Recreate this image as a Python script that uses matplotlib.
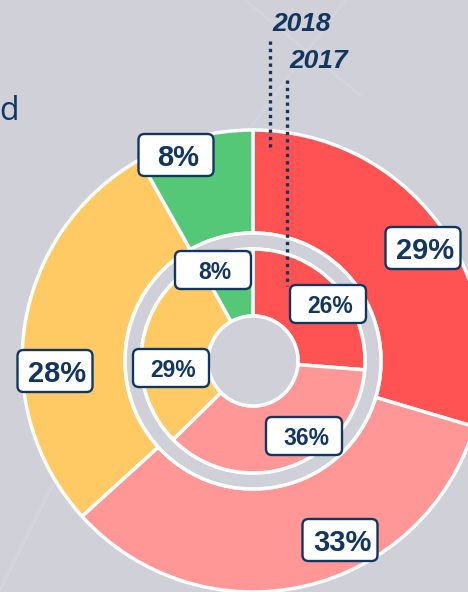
import matplotlib.pyplot as plt
from matplotlib.patches import Circle, Wedge, FancyBboxPatch

# ── data ─────────────────────────────────────────────────────────────────────
segments   = ["A", "B", "C", "D"]
share_2018 = [29, 33, 28, 8]     # outer ring
share_2017 = [26, 36, 29, 8]     # inner ring
seg_colors = ["#FF5252", "#FF9797", "#FFC963", "#55C878"]
# ─────────────────────────────────────────────────────────────────────────────

W, H = 468, 592
BG = "#CFD0D8"
NAVY = "#12365F"

def py(y):
    # image row -> data y (y up)
    return H - y

fig = plt.figure(figsize=(W / 100, H / 100), dpi=100)
fig.patch.set_facecolor(BG)
ax = fig.add_axes([0, 0, 1, 1])
ax.set_facecolor(BG)

# faint background streaks
for (x0, y0, x1, y1) in [(245, 0, 360, 95), (345, 0, 245, 135), (60, 470, 0, 590)]:
    ax.plot([x0, x1], [py(y0), py(y1)], color="white", alpha=0.12, lw=2, zorder=0)

cx, cy = 253, py(361)
r_out, r_out_in = 231, 128
r_in, r_hole = 112, 45
lw = 2.5

ax.pie(share_2018, radius=r_out, center=(cx, cy), startangle=90, counterclock=False,
       colors=seg_colors, wedgeprops=dict(width=r_out - r_out_in, edgecolor="white", linewidth=lw))
ax.add_patch(Wedge((cx, cy), r_out_in, 0, 360, width=r_out_in - r_in,
                   facecolor=BG, edgecolor="white", linewidth=lw, zorder=3))
ax.pie(share_2017, radius=r_in, center=(cx, cy), startangle=90, counterclock=False,
       colors=seg_colors, wedgeprops=dict(width=r_in - r_hole, edgecolor="white", linewidth=lw, zorder=4))
ax.add_patch(Circle((cx, cy), r_hole, facecolor=BG, edgecolor="white", linewidth=lw, zorder=5))

# value labels: centre positions in image pixels
outer_pos = [(423, 248), (340, 540), (55, 371), (176, 155)]
inner_pos = [(328, 304), (304, 436), (171, 368), (213, 270)]

def label(txt, x, y, w, h, fs):
    ax.add_patch(FancyBboxPatch((x - w / 2, py(y) - h / 2), w, h,
                                boxstyle="round,pad=0,rounding_size=6",
                                facecolor="white", edgecolor=NAVY, linewidth=1.7, zorder=8))
    ax.text(x + 2, py(y), txt, ha="center", va="center_baseline", fontsize=fs,
            fontweight="bold", color=NAVY, family="Liberation Sans", zorder=9)

for v, (x, y) in zip(share_2018, outer_pos):
    label(f"{v}%", x, y, 75, 42, 21)
for v, (x, y) in zip(share_2017, inner_pos):
    label(f"{v}%", x, y, 76, 38, 16.5)

# year markers with dotted leader lines
ax.text(272, py(24), "2018", fontsize=19, fontweight="bold", style="italic",
        color=NAVY, family="Liberation Sans", va="center", ha="left", zorder=10)
ax.text(289, py(61), "2017", fontsize=19, fontweight="bold", style="italic",
        color=NAVY, family="Liberation Sans", va="center", ha="left", zorder=10)
ax.plot([270, 270], [py(41), py(148)], color=NAVY, lw=2.4, ls=(0, (1, 1.2)), zorder=10)
ax.plot([287, 287], [py(80), py(286)], color=NAVY, lw=2.4, ls=(0, (1, 1.2)), zorder=10)

# cut-off slide text
ax.text(-1, py(111), "d", fontsize=23, color=NAVY, family="Open Sans",
        va="center", ha="left", zorder=10)

ax.set_xlim(0, W)
ax.set_ylim(0, H)
ax.set_aspect("equal")
ax.axis("off")

fig.savefig("out.png", dpi=100, facecolor=BG)
